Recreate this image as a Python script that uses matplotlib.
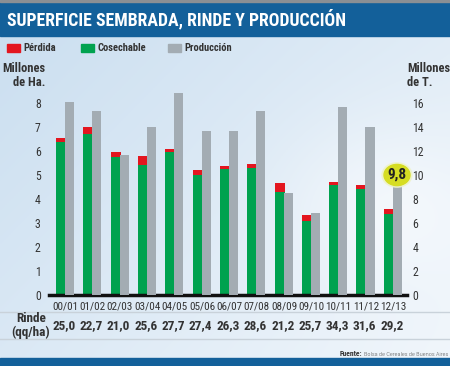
import numpy as np
import matplotlib
matplotlib.use("Agg")
import matplotlib.pyplot as plt
from matplotlib.patches import Rectangle, Circle
from matplotlib.transforms import blended_transform_factory

plt.rcParams['font.family'] = ['Roboto Condensed', 'DejaVu Sans']

# data (millones de ha / millones de t)
campanas = ['00/01', '01/02', '02/03', '03/04', '04/05', '05/06', '06/07',
            '07/08', '08/09', '09/10', '10/11', '11/12', '12/13']
cosechable = [6.39, 6.71, 5.76, 5.42, 5.97, 5.00, 5.25, 5.31, 4.31, 3.07, 4.57, 4.42, 3.38]
perdida = [0.14, 0.28, 0.21, 0.39, 0.10, 0.21, 0.13, 0.13, 0.37, 0.25, 0.14, 0.16, 0.20]
produccion = [16.1, 15.3, 11.7, 14.0, 16.8, 13.7, 13.7, 15.3, 8.5, 6.8, 15.7, 14.0, 9.3]
rinde = ['25,0', '22,7', '21,0', '25,6', '27,7', '27,4', '26,3',
         '28,6', '21,2', '25,7', '34,3', '31,6', '29,2']
ultima_prod = '9,8'

RED = '#e3161f'
GREEN = '#00a24f'
GRAY = '#a3acb3'
BLUE = '#13609a'
TXT = '#333333'

fig = plt.figure(figsize=(4.5, 3.66), dpi=100)

# sky-like background
bg = fig.add_axes([0, 0, 1, 1], zorder=-10)
yy, xx = np.mgrid[0:1:200j, 0:1:200j]
val = 0.5 * xx + 0.4 * (1 - yy) + 0.3 * np.exp(-((xx - 0.85) ** 2 + (yy - 0.45) ** 2) / 0.05)
val = np.clip(val, 0, 1)
c0 = np.array([0.79, 0.87, 0.94])
c1 = np.array([0.96, 0.975, 0.99])
img = c0[None, None, :] * (1 - val[..., None]) + c1[None, None, :] * val[..., None]
bg.imshow(img, extent=[0, 1, 0, 1], aspect='auto', origin='lower')
bg.set_xlim(0, 1)
bg.set_ylim(0, 1)
bg.axis('off')

W, H = 450.0, 366.0
def fx(px):
    return px / W
def fy(py):
    return 1 - py / H

# header banner
fig.patches.append(Rectangle((0, fy(36)), 1, 34 / H, transform=fig.transFigure,
                             color=BLUE, zorder=1))
fig.patches.append(Rectangle((0, fy(2)), 1, 2 / H, transform=fig.transFigure,
                             color='#8a8f94', zorder=1))
fig.text(fx(7), fy(19.5), 'SUPERFICIE SEMBRADA, RINDE Y PRODUCCIÓN', color='white',
         fontsize=12.8, fontweight='bold', va='center', ha='left')

# legend
for x0, col, lab in [(7, RED, 'Pérdida'), (81, GREEN, 'Cosechable'), (168, GRAY, 'Producción')]:
    fig.patches.append(Rectangle((fx(x0), fy(52)), 13 / W, 8 / H, transform=fig.transFigure,
                                 color=col, zorder=2))
    fig.text(fx(x0 + 16), fy(48), lab, color=TXT, fontsize=7.6, fontweight='bold',
             va='center', ha='left')

# main axes
ax = fig.add_axes([fx(49), fy(295), (407 - 49) / W, (295 - 85) / H])
ax.set_facecolor('none')
x = np.arange(len(campanas))
ax.bar(x - 0.165, cosechable, width=0.366, color=GREEN, zorder=3)
ax.bar(x - 0.165, perdida, bottom=cosechable, width=0.366, color=RED, zorder=3)
ax.set_xlim(-0.6, 12.5)
ax.set_ylim(0, 8.75)
ax.set_yticks(range(0, 9))
ax.set_xticks(x)
ax.set_xticklabels(campanas, fontsize=8, color=TXT)
ax.tick_params(axis='both', length=0, colors=TXT)
ax.tick_params(axis='y', pad=6, labelsize=8.5)
ax.tick_params(axis='x', pad=5)
for s in ax.spines.values():
    s.set_visible(False)
ax.axhline(0, color='#111111', lw=2.5, zorder=5, clip_on=False)

ax2 = ax.twinx()
ax2.bar(x + 0.146, produccion, width=0.33, color=GRAY, zorder=3)
ax2.set_ylim(0, 17.5)
ax2.set_yticks(range(0, 17, 2))
ax2.tick_params(axis='y', length=0, pad=4, labelsize=8.5, colors=TXT)
for s in ax2.spines.values():
    s.set_visible(False)

# highlight last production value
fig.patches.append(Circle((fx(397), fy(175)), 15 / W, transform=fig.transFigure,
                          color='#eef3c8', alpha=0.8, zorder=9))
fig.patches.append(Circle((fx(397), fy(175)), 13 / W, transform=fig.transFigure,
                          color='#d6dd23', zorder=10))
fig.text(fx(397), fy(175), ultima_prod, color='#222222', fontsize=11, fontweight='bold',
         ha='center', va='center', zorder=11)

# axis titles
fig.text(fx(45), fy(76), 'Millones\nde Ha.', color=TXT, fontsize=9, fontweight='bold',
         ha='right', va='center', linespacing=1.1)
fig.text(fx(407), fy(76), 'Millones\nde T.', color=TXT, fontsize=9, fontweight='bold',
         ha='left', va='center', linespacing=1.1)

# rinde row
fig.add_artist(plt.Line2D([0, 1], [fy(312), fy(312)], transform=fig.transFigure,
                          color='#c9d2da', lw=1))
fig.add_artist(plt.Line2D([0, 1], [fy(339), fy(339)], transform=fig.transFigure,
                          color='#c9d2da', lw=1))
fig.text(fx(31), fy(325.5), 'Rinde\n(qq/ha)', color=TXT, fontsize=9.5, fontweight='bold',
         ha='center', va='center', linespacing=1.0)
tr = blended_transform_factory(ax.transData, fig.transFigure)
for xi, r in zip(x, rinde):
    ax.text(xi - 0.05, fy(326), r, transform=tr, color=TXT, fontsize=9.5,
            fontweight='bold', ha='center', va='center', clip_on=False)

# source + bottom banner
src = fig.text(fx(448), fy(354), 'Bolsa de Cereales de Buenos Aires', color='#555555',
               fontsize=4.5, fontweight='light', ha='right', va='center')
fig.canvas.draw()
bb = src.get_window_extent()
fig.text((bb.x0 - 2) / W, fy(354), 'Fuente:', color=TXT, fontsize=5.5, fontweight='bold',
         ha='right', va='center')
fig.patches.append(Rectangle((0, 0), 1, 8 / H, transform=fig.transFigure,
                             color=BLUE, zorder=1))

fig.savefig('out.png', dpi=100)
